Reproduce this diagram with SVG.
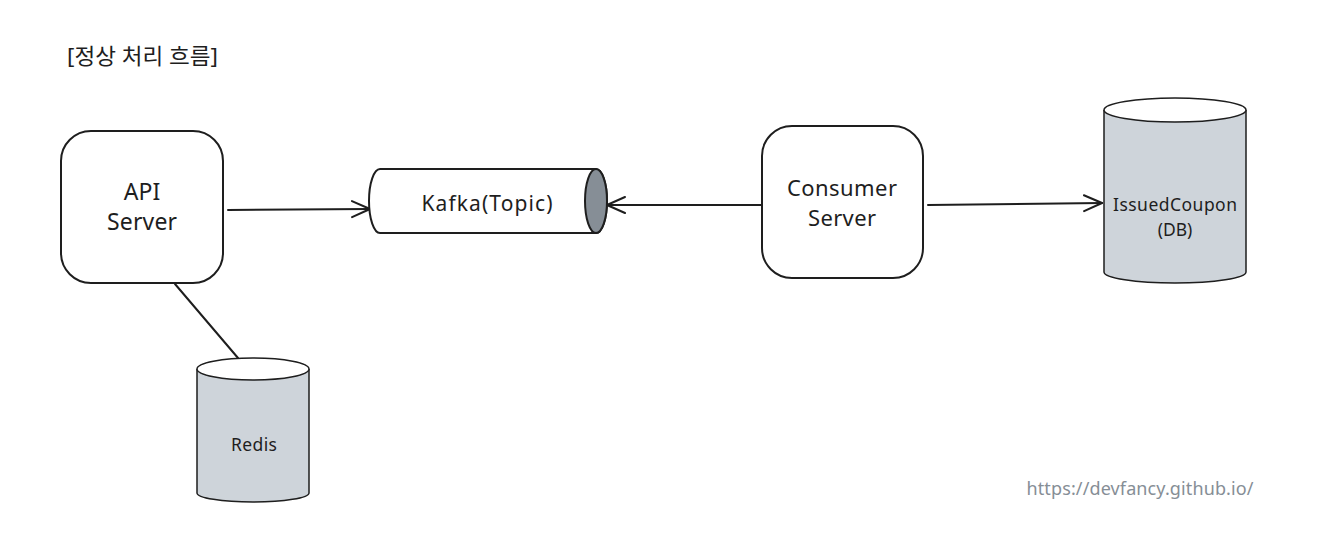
<svg xmlns="http://www.w3.org/2000/svg" width="1320" height="534" viewBox="0 0 1320 534">
<style>
.t{font-family:"Noto Sans","Noto Sans CJK KR",sans-serif;fill:#1e1e1e;text-anchor:middle}
.s{fill:#fff;stroke:#1e1e1e;stroke-width:2}
.db{fill:#ced4da;stroke:#1e1e1e;stroke-width:1.5}
.c{stroke:#1e1e1e;stroke-width:2;fill:none;stroke-linecap:round}
</style>
<defs>
<marker id="a" viewBox="0 0 20 20" refX="19" refY="10" markerWidth="20" markerHeight="20" markerUnits="userSpaceOnUse" orient="auto">
<path d="M1,2 L19,10 L1,18" fill="none" stroke="#1e1e1e" stroke-width="2" stroke-linecap="round"/>
</marker>
</defs>
<rect width="1320" height="534" fill="#fff"/>
<text x="67" y="64" class="t" style="text-anchor:start;font-size:22px" textLength="151" lengthAdjust="spacingAndGlyphs">[정상 처리 흐름]</text>
<g id="connectors">
<line x1="228" y1="210" x2="370" y2="209" class="c" marker-end="url(#a)"/>
<line x1="763" y1="205" x2="607" y2="205" class="c" marker-end="url(#a)"/>
<line x1="928" y1="205" x2="1102" y2="203" class="c" marker-end="url(#a)"/>
<line x1="175" y1="284" x2="238" y2="358" class="c"/>
</g>
<g id="api-server">
<rect x="61" y="131" width="162" height="152" rx="30" class="s"/>
<text x="142" y="200" class="t" style="font-size:23px">API</text>
<text x="142" y="230" class="t" style="font-size:23px" textLength="70">Server</text>
</g>
<g id="kafka">
<path d="M380,169 L596,169 A11,32 0 0 1 596,233 L380,233 A11,32 0 0 1 380,169 Z" class="s"/>
<ellipse cx="596" cy="201" rx="11" ry="32" fill="#868e96" stroke="#1e1e1e" stroke-width="2"/>
<text x="487" y="211" class="t" style="font-size:21px" textLength="131">Kafka(Topic)</text>
</g>
<g id="consumer-server">
<rect x="762" y="126" width="161" height="152" rx="30" class="s"/>
<text x="842" y="196" class="t" style="font-size:22px" textLength="110">Consumer</text>
<text x="842" y="226" class="t" style="font-size:22px" textLength="68">Server</text>
</g>
<g id="issued-coupon-db">
<path d="M1104,110 L1104,272 A71,11 0 0 0 1246,272 L1246,110" class="db"/>
<ellipse cx="1175" cy="110" rx="71" ry="12" fill="#fff" stroke="#1e1e1e" stroke-width="1.5"/>
<text x="1175" y="211" class="t" style="font-size:17.5px" textLength="124">IssuedCoupon</text>
<text x="1175" y="236" class="t" style="font-size:17.5px">(DB)</text>
</g>
<g id="redis">
<path d="M197,369 L197,493 A56,9 0 0 0 309,493 L309,369" class="db"/>
<ellipse cx="253" cy="369" rx="56" ry="11" fill="#fff" stroke="#1e1e1e" stroke-width="1.5"/>
<text x="254" y="451" class="t" style="font-size:17.5px" textLength="46">Redis</text>
</g>
<text x="1140" y="495" class="t" style="font-size:18px;fill:#868e96" textLength="227">https://devfancy.github.io/</text>
</svg>
